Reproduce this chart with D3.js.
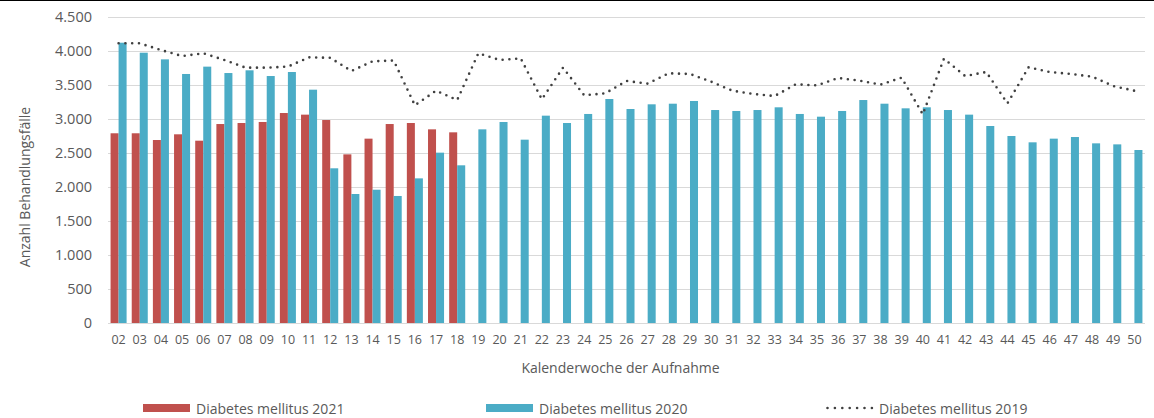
<!DOCTYPE html>
<html>
<head>
<meta charset="utf-8">
<script src="https://cdn.jsdelivr.net/npm/d3@7"></script>
<style>
  body { margin: 0; background: #fff; }
  svg { display: block; font-family: "Open Sans", sans-serif; }
</style>
</head>
<body>
<div id="chart"></div>
<script>
// Kalenderwochen 02..50
const weeks = d3.range(2, 51).map((w) => String(w).padStart(2, "0"));

// Diabetes mellitus 2021 (nur KW 02-18)
const dm2021 = [2790, 2790, 2691, 2775, 2681, 2926, 2941, 2956, 3088, 3064, 2985, 2480, 2711, 2926, 2941, 2848, 2804];

// Diabetes mellitus 2020
const dm2020 = [4122, 3975, 3877, 3662, 3770, 3676, 3716, 3632, 3691, 3431,
  2275, 1897, 1960, 1868, 2127, 2505, 2319, 2848, 2956, 2696,
  3049, 2941, 3074, 3294, 3147, 3216, 3225, 3265, 3132, 3118,
  3132, 3172, 3074, 3034, 3118, 3279, 3225, 3157, 3172, 3132,
  3064, 2897, 2750, 2657, 2711, 2735, 2642, 2627, 2544];

// Diabetes mellitus 2019 (Linie)
const dm2019 = [4113, 4113, 4015, 3926, 3966, 3868, 3755, 3755, 3770, 3907,
  3900, 3706, 3848, 3860, 3201, 3416, 3279, 3966, 3868, 3892,
  3289, 3755, 3348, 3378, 3559, 3520, 3672, 3662, 3549, 3416,
  3368, 3338, 3510, 3495, 3603, 3564, 3505, 3608, 3069, 3887,
  3632, 3691, 3230, 3760, 3691, 3662, 3623, 3485, 3416];

const yTicks = [0, 500, 1000, 1500, 2000, 2500, 3000, 3500, 4000, 4500];

(function () {
  const W = 1154, H = 418;
  const margin = { top: 17, right: 9, bottom: 95, left: 108 };
  const width = W - margin.left - margin.right;
  const height = H - margin.top - margin.bottom;

  const red = "#C0504D", blue = "#4BACC6", lineCol = "#404040", txt = "#595959";
  const fmt = (v) => d3.format(",")(v).replace(/,/g, ".");

  const svg = d3.select("#chart").append("svg").attr("width", W).attr("height", H);

  // Rahmenlinie oben
  svg.append("line")
    .attr("x1", 0).attr("x2", W).attr("y1", 0.5).attr("y2", 0.5)
    .attr("stroke", "#000").attr("stroke-width", 1);

  const g = svg.append("g").attr("transform", `translate(${margin.left},${margin.top})`);

  const x = d3.scaleBand().domain(weeks).range([0, width]).padding(0);
  const xSub = d3.scaleBand().domain(["2021", "2020"]).range([0, x.bandwidth()])
    .paddingInner(0).paddingOuter(0.32);
  const y = d3.scaleLinear().domain([0, 4500]).range([height, 0]);

  // Gitterlinien
  g.append("g")
    .selectAll("line")
    .data(yTicks)
    .join("line")
    .attr("x1", 0).attr("x2", width)
    .attr("y1", (d) => Math.round(y(d)) + 0.5).attr("y2", (d) => Math.round(y(d)) + 0.5)
    .attr("stroke", "#d9d9d9").attr("stroke-width", 1);

  // Y-Achse
  const yAxis = g.append("g")
    .call(d3.axisLeft(y).tickValues(yTicks).tickFormat(fmt).tickSize(0).tickPadding(16));
  yAxis.select(".domain").remove();
  yAxis.selectAll("text").attr("fill", txt).attr("font-size", "14.5px")
    .attr("font-family", "Open Sans, sans-serif");

  // X-Achse
  const xAxis = g.append("g")
    .attr("transform", `translate(0,${height})`)
    .call(d3.axisBottom(x).tickSize(0).tickPadding(12));
  xAxis.select(".domain").remove();
  xAxis.selectAll("text").attr("fill", txt).attr("font-size", "12.5px")
    .attr("font-family", "Open Sans, sans-serif");

  // Balken 2021
  g.append("g")
    .selectAll("rect")
    .data(dm2021)
    .join("rect")
    .attr("x", (d, i) => x(weeks[i]) + xSub("2021"))
    .attr("width", xSub.bandwidth())
    .attr("y", (d) => y(d))
    .attr("height", (d) => height - y(d))
    .attr("fill", red);

  // Balken 2020
  g.append("g")
    .selectAll("rect")
    .data(dm2020)
    .join("rect")
    .attr("x", (d, i) => x(weeks[i]) + xSub("2020"))
    .attr("width", xSub.bandwidth())
    .attr("y", (d) => y(d))
    .attr("height", (d) => height - y(d))
    .attr("fill", blue);

  // Linie 2019
  const line = d3.line()
    .x((d, i) => x(weeks[i]) + x.bandwidth() / 2)
    .y((d) => y(d));

  g.append("path")
    .datum(dm2019)
    .attr("d", line)
    .attr("fill", "none")
    .attr("stroke", lineCol)
    .attr("stroke-width", 2.6)
    .attr("stroke-linecap", "round")
    .attr("stroke-dasharray", "0,6.8");

  // Achsentitel
  svg.append("text")
    .attr("x", margin.left + width / 2 - 6)
    .attr("y", 373)
    .attr("text-anchor", "middle")
    .attr("font-size", "14px")
    .attr("fill", txt)
    .text("Kalenderwoche der Aufnahme");

  svg.append("text")
    .attr("transform", "translate(29.5,187) rotate(-90)")
    .attr("text-anchor", "middle")
    .attr("font-size", "14px")
    .attr("fill", txt)
    .text("Anzahl Behandlungsfälle");

  // Legende
  const legendItems = [
    { label: "Diabetes mellitus 2021", type: "bar", color: red, x: 143 },
    { label: "Diabetes mellitus 2020", type: "bar", color: blue, x: 486 },
    { label: "Diabetes mellitus 2019", type: "line", color: lineCol, x: 826 },
  ];
  const legend = svg.append("g");
  legendItems.forEach((it) => {
    const row = legend.append("g").attr("transform", `translate(${it.x},0)`);
    if (it.type === "bar") {
      row.append("rect").attr("x", 0).attr("y", 404).attr("width", 47).attr("height", 8)
        .attr("fill", it.color);
    } else {
      row.append("line").attr("x1", 1.5).attr("x2", 46).attr("y1", 408).attr("y2", 408)
        .attr("stroke", it.color).attr("stroke-width", 2.6)
        .attr("stroke-linecap", "round").attr("stroke-dasharray", "0,7.4");
    }
    row.append("text")
      .attr("x", 53)
      .attr("y", 413.5)
      .attr("font-size", "14px")
      .attr("fill", txt)
      .text(it.label);
  });
})();
</script>
</body>
</html>
